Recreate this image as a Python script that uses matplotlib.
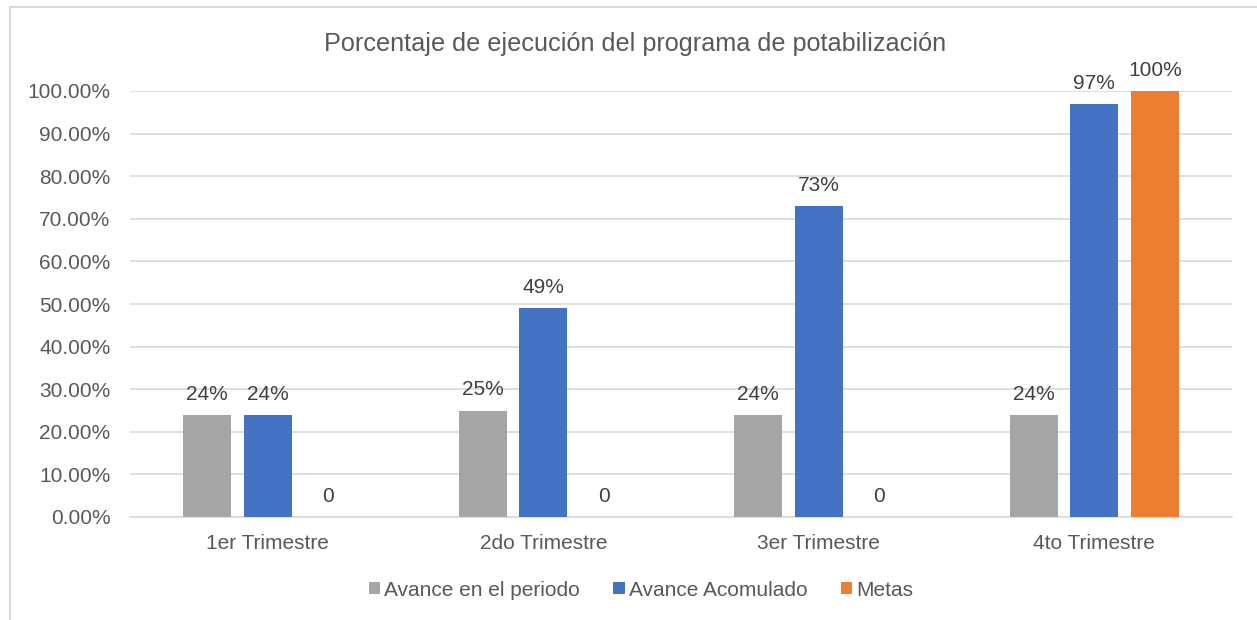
import numpy as np
import matplotlib
matplotlib.use("Agg")
from matplotlib import pyplot as plt
from matplotlib.ticker import FuncFormatter
from matplotlib.patches import Rectangle

# data
trimestres = ['1er Trimestre', '2do Trimestre', '3er Trimestre', '4to Trimestre']
avance_periodo = [0.24, 0.25, 0.24, 0.24]
avance_acumulado = [0.24, 0.49, 0.73, 0.97]
metas = [0, 0, 0, 1.00]
series_names = ['Avance en el periodo', 'Avance Acomulado', 'Metas']
colors = ['#A5A5A5', '#4472C4', '#ED7D31']

plt.rcParams['font.family'] = ['Liberation Sans', 'DejaVu Sans']
text_color = '#595959'

fig = plt.figure(figsize=(12.57, 6.2), dpi=100)
ax = fig.add_axes([130/1257, 1-517/620, 1102/1257, 426/620])

# chart frame (only left and top visible in the crop)
fig.add_artist(Rectangle((10/1257, -0.1), 1.2, 1-7/620+0.1, transform=fig.transFigure,
                         fill=False, edgecolor='#D9D9D9', linewidth=1.5))

x = np.arange(len(trimestres))
width = 0.175
step = 0.22
for i, (vals, name, col) in enumerate(zip([avance_periodo, avance_acumulado, metas], series_names, colors)):
    pos = x + (i - 1) * step
    bars = ax.bar(pos, vals, width, color=col, label=name, zorder=3)
    for b, v in zip(bars, vals):
        lab = '0' if v == 0 else '%d%%' % round(v * 100)
        ax.annotate(lab, (b.get_x() + b.get_width() / 2, v), xytext=(0, 8),
                    textcoords='offset points', ha='center', va='bottom',
                    fontsize=15, color='#404040')

ax.set_xlim(-0.5, 3.5)
ax.set_ylim(0, 1.0)
ax.set_yticks(np.arange(0, 1.01, 0.1))
ax.yaxis.set_major_formatter(FuncFormatter(lambda v, p: '%.2f%%' % (v * 100)))
ax.set_xticks(x)
ax.set_xticklabels(trimestres)
ax.tick_params(axis='both', length=0, labelsize=15, colors=text_color)
ax.tick_params(axis='y', pad=14)
ax.tick_params(axis='x', pad=12)
ax.grid(axis='y', color='#D9D9D9', linewidth=1.2, zorder=0)
for s in ['left', 'right', 'top']:
    ax.spines[s].set_visible(False)
ax.spines['bottom'].set_color('#D9D9D9')
ax.spines['bottom'].set_linewidth(1.2)

fig.text(635/1257, 1-44/620, 'Porcentaje de ejecución del programa de potabilización',
         ha='center', va='center', fontsize=18.2, color=text_color)

fig.legend(loc='center', bbox_to_anchor=(641/1257, 1-590/620), ncol=3, frameon=False,
           fontsize=15, handlelength=0.55, handleheight=0.55, handletextpad=0.2,
           columnspacing=1.6, labelcolor=text_color)

fig.savefig('out.png', dpi=100)
